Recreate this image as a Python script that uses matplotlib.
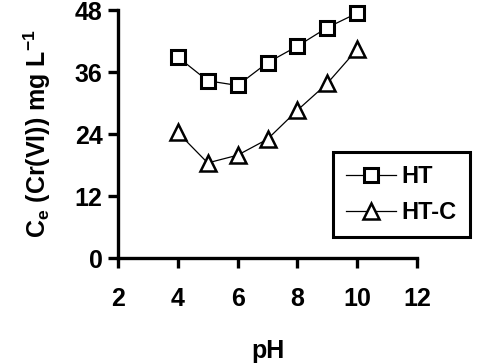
import matplotlib
matplotlib.use("Agg")
import matplotlib.pyplot as plt

ph = [4, 5, 6, 7, 8, 9, 10]
ht = [38.9, 34.3, 33.4, 37.8, 41.0, 44.6, 47.4]
ht_c = [24.3, 18.4, 19.9, 23.0, 28.6, 33.8, 40.4]
xticks = [2, 4, 6, 8, 10, 12]
yticks = [0, 12, 24, 36, 48]

plt.rcParams['font.family'] = ['Liberation Sans', 'DejaVu Sans']
plt.rcParams['mathtext.default'] = 'regular'

fig = plt.figure(figsize=(4.8, 3.64), dpi=100)
ax = fig.add_axes([118/480, 1-258/364, (417-118)/480, (258-10)/364])

ax.plot(ph, ht, color='black', lw=0.9, marker='s', ms=10, mfc='white', mec='black', mew=2.2, label='HT', clip_on=False)
ax.plot(ph, ht_c, color='black', lw=0.9, marker='^', ms=11, mfc='white', mec='black', mew=1.8, label='HT-C', clip_on=False)

ax.set_xlim(2, 12)
ax.set_ylim(0, 48)
ax.set_xticks(xticks)
ax.set_yticks(yticks)
for s in ['top', 'right']:
    ax.spines[s].set_visible(False)
for s in ['left', 'bottom']:
    ax.spines[s].set_linewidth(2.4)
ax.tick_params(width=2.4, length=7, direction='out', labelsize=18)
ax.tick_params(axis='x', pad=14)
ax.tick_params(axis='y', pad=4)
for lab in ax.get_xticklabels() + ax.get_yticklabels():
    lab.set_fontweight('bold')

ax.set_xlabel('pH', fontsize=18, fontweight='bold', labelpad=20)
ax.set_ylabel(r'C$_{e}$ (Cr(VI)) mg L$^{-1}$', fontsize=18, fontweight='bold', labelpad=16)

leg = fig.legend(loc='upper left', bbox_to_anchor=(333/480, 1-152/364), fontsize=17,
                 frameon=True, fancybox=False, edgecolor='black', framealpha=1,
                 handlelength=2.1, borderpad=0.55, labelspacing=0.55, handletextpad=0.25,
                 borderaxespad=0)
leg.get_frame().set_linewidth(2.2)
for t in leg.get_texts():
    t.set_fontweight('bold')

fig.savefig('out.png', dpi=100, facecolor='white')
